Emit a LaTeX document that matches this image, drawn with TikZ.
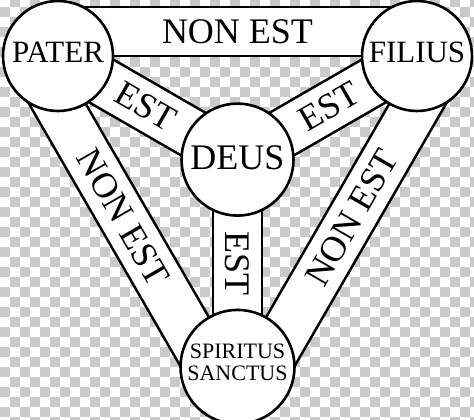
\documentclass[tikz,border=0pt]{standalone}
\usepackage{fontspec}
\setmainfont{Liberation Serif}
\usetikzlibrary{calc}
\definecolor{checkgray}{RGB}{202,202,202}
\pgfdeclarelayer{checker}
\pgfdeclarelayer{bands}
\pgfsetlayers{checker,bands,main}
\tikzset{
  disc/.style={circle, draw=black, fill=white, line width=2.6pt, inner sep=0pt},
  bandblack/.style={line width=51.6pt, draw=black},
  bandwhite/.style={line width=46.4pt, draw=white},
  biglbl/.style={inner sep=0pt, font=\fontsize{36}{36}\selectfont},
  namelbl/.style={inner sep=0pt, font=\fontsize{31}{31}\selectfont},
  smalllbl/.style={inner sep=0pt, align=center, font=\fontsize{22}{22}\selectfont},
}
\begin{document}
\begin{tikzpicture}[x=1pt,y=-1pt]
\useasboundingbox (0,0) rectangle (474,420);
\clip (0,0) rectangle (474,420);
\begin{pgfonlayer}{checker}
\fill[white] (0,0) rectangle (474,420);
\foreach \i in {0,2,...,46} \foreach \j in {-2,0,...,42} {
  \fill[checkgray] (\i*10, \j*10+6.7) rectangle ++(10,10);
  \fill[checkgray] (\i*10+10, \j*10+16.7) rectangle ++(10,10);
}
\end{pgfonlayer}
% circles
\node[disc, minimum size=110pt] (P) at (58,56) {};
\node[disc, minimum size=110pt] (F) at (417,56) {};
\node[disc, minimum size=112pt] (D) at (237.5,159.6) {};
\node[disc, minimum size=114pt] (S) at (237.5,366.9) {};
% shifted ends of the outer bands
\coordinate (PF1) at ($(P.center)!24.5pt!90:(F.center)$);
\coordinate (PF2) at ($(F.center)!24.5pt!-90:(P.center)$);
\coordinate (PS1) at ($(P.center)!24.5pt!-90:(S.center)$);
\coordinate (PS2) at ($(S.center)!24.5pt!90:(P.center)$);
\coordinate (FS1) at ($(F.center)!24.5pt!90:(S.center)$);
\coordinate (FS2) at ($(S.center)!24.5pt!-90:(F.center)$);
\begin{pgfonlayer}{bands}
\draw[bandblack] (PF1) -- (PF2); \draw[bandwhite] (PF1) -- (PF2);
\draw[bandblack] (PS1) -- (PS2); \draw[bandwhite] (PS1) -- (PS2);
\draw[bandblack] (FS1) -- (FS2); \draw[bandwhite] (FS1) -- (FS2);
\draw[bandblack] (P.center) -- (D.center); \draw[bandwhite] (P.center) -- (D.center);
\draw[bandblack] (F.center) -- (D.center); \draw[bandwhite] (F.center) -- (D.center);
\draw[bandblack] (D.center) -- (S.center); \draw[bandwhite] (D.center) -- (S.center);
\end{pgfonlayer}
% circle texts
\node[namelbl] (Pt) at ([yshift=3.5pt]P.center) {PATER};
\node[namelbl] (Ft) at ([yshift=3.5pt]F.center) {FILIUS};
\node[biglbl] (Dt) at ([yshift=1.5pt]D.center) {DEUS};
\node[smalllbl] (St) at ([yshift=5pt]S.center) {SPIRITUS\\SANCTUS};
% band texts
\node[biglbl] (tPF) at ($(PF1)!0.5!(PF2)$) {NON EST};
\node[biglbl, rotate=-60] (tPS) at ($(PS1)!0.48!(PS2)$) {NON EST};
\node[biglbl, rotate=60] (tFS) at ($(FS1)!0.48!(FS2)$) {NON EST};
\node[biglbl, rotate=-30] (tPD) at ($(P.center)!0.49!(D.center)$) {EST};
\node[biglbl, rotate=30] (tFD) at ($(F.center)!0.49!(D.center)$) {EST};
\node[biglbl, rotate=-90] (tDS) at ($(D.center)!0.5!(S.center)$) {EST};
\end{tikzpicture}
\end{document}
